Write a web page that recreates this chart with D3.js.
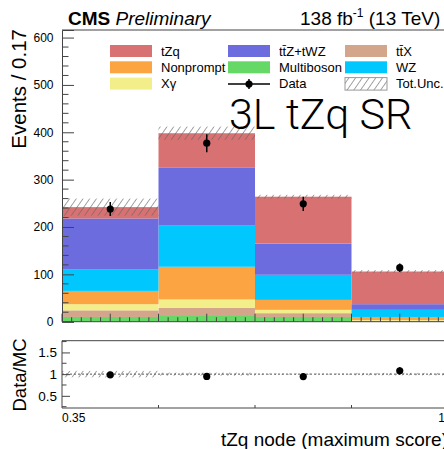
<!DOCTYPE html>
<html>
<head>
<meta charset="utf-8">
<script src="https://cdn.jsdelivr.net/npm/d3@7"></script>
<style>
  body { margin: 0; background: #fff; overflow: hidden; }
  svg text { font-family: "Liberation Sans", Arial, Helvetica, sans-serif; fill: #000; }
</style>
</head>
<body>
<div id="chart"></div>
<script>
// bin edges of the tZq node score
var binEdges = [0.35, 0.5125, 0.675, 0.8375, 1.0];

// stacked backgrounds, bottom to top
var processes = ["Multiboson", "ttX", "Xgamma", "Nonprompt", "WZ", "ttZ", "tZq"];
var multiboson = [10, 12, 10, 0.5];
var ttX        = [14, 17, 8, 1.5];
var xgamma     = [13, 18, 7, 1.5];
var nonprompt  = [28, 69, 21, 6.5];
var wz         = [46, 88, 53, 15];
var ttz        = [107, 121, 66, 12];
var tzq        = [24, 73, 99, 69];
var totUnc     = [18, 14, 4, 3];

var dataVals = [238, 377, 249, 114];
var dataErr  = [15, 19, 15, 9];

var yTicks = [0, 100, 200, 300, 400, 500, 600];
var ratioTicks = [0.5, 1, 1.5];

var colors = {
    tZq: "#d87272", Nonprompt: "#fca441", Xgamma: "#f2ef8a",
    ttZ: "#6c6cdf", Multiboson: "#66d866", ttX: "#d3a68c", WZ: "#00c8ff"
};

var W = 444, H = 449;
var frame = { left: 62, right: 448, top: 30, bottom: 321.7 };
var rframe = { top: 340.7, bottom: 408 };

var svg = d3.select("#chart").append("svg")
    .attr("width", W).attr("height", H);

var defs = svg.append("defs");
var pat = defs.append("pattern")
    .attr("id", "hatch")
    .attr("patternUnits", "userSpaceOnUse")
    .attr("width", 5.5).attr("height", 5.5)
    .attr("patternTransform", "rotate(35)");
pat.append("line")
    .attr("x1", 0).attr("y1", 0).attr("x2", 0).attr("y2", 5.5)
    .attr("stroke", "#666").attr("stroke-width", 1.2);

var x = d3.scaleLinear().domain([0.35, 1.0]).range([frame.left, frame.right]);
var y = d3.scaleLinear().domain([0, 616]).range([frame.bottom, frame.top]);
var yr = d3.scaleLinear().domain([0.22, 1.77]).range([rframe.bottom, rframe.top]);

// build bins table for the stack
var bins = binEdges.slice(0, -1).map(function (lo, i) {
    return {
        lo: lo, hi: binEdges[i + 1],
        Multiboson: multiboson[i], ttX: ttX[i], Xgamma: xgamma[i],
        Nonprompt: nonprompt[i], WZ: wz[i], ttZ: ttz[i], tZq: tzq[i]
    };
});
var totals = bins.map(function (d) {
    return d3.sum(processes, function (k) { return d[k]; });
});

var stack = d3.stack().keys(processes)(bins);

var plot = svg.append("g");
plot.selectAll(".layer")
    .data(stack).enter()
    .append("g")
    .attr("fill", function (d) { return colors[d.key]; })
    .selectAll("rect")
    .data(function (d) { return d; }).enter()
    .append("rect")
    .attr("x", function (d) { return x(d.data.lo); })
    .attr("width", function (d) { return x(d.data.hi) - x(d.data.lo); })
    .attr("y", function (d) { return y(d[1]); })
    .attr("height", function (d) { return y(d[0]) - y(d[1]); });

// total uncertainty band
plot.selectAll(".unc")
    .data(bins).enter()
    .append("rect")
    .attr("class", "unc")
    .attr("x", function (d) { return x(d.lo); })
    .attr("width", function (d) { return x(d.hi) - x(d.lo); })
    .attr("y", function (d, i) { return y(totals[i] + totUnc[i]); })
    .attr("height", function (d, i) { return y(totals[i] - totUnc[i]) - y(totals[i] + totUnc[i]); })
    .attr("fill", "url(#hatch)");

// data points
var centers = bins.map(function (d) { return (d.lo + d.hi) / 2; });
plot.selectAll(".err")
    .data(dataVals).enter()
    .append("line")
    .attr("x1", function (d, i) { return x(centers[i]); })
    .attr("x2", function (d, i) { return x(centers[i]); })
    .attr("y1", function (d, i) { return y(d - dataErr[i]); })
    .attr("y2", function (d, i) { return y(d + dataErr[i]); })
    .attr("stroke", "#000").attr("stroke-width", 1.5);
plot.selectAll(".pt")
    .data(dataVals).enter()
    .append("circle")
    .attr("cx", function (d, i) { return x(centers[i]); })
    .attr("cy", function (d) { return y(d); })
    .attr("r", 3.6).attr("fill", "#000");

// main frame axes
var axisColor = "#444";
svg.append("line").attr("x1", frame.left).attr("x2", frame.right)
    .attr("y1", frame.top).attr("y2", frame.top).attr("stroke", axisColor);
svg.append("line").attr("x1", frame.left).attr("x2", frame.right)
    .attr("y1", frame.bottom).attr("y2", frame.bottom).attr("stroke", axisColor);

var yAxis = d3.axisLeft(y).tickValues(yTicks).tickSize(-12).tickPadding(20)
    .tickFormat(d3.format("d"));
var yAxisG = svg.append("g").attr("transform", "translate(" + frame.left + ",0)").call(yAxis);
yAxisG.select(".domain").attr("stroke", axisColor);
yAxisG.selectAll(".tick line").attr("stroke", axisColor);
yAxisG.selectAll(".tick text").attr("font-size", 12).attr("x", -8.5)
    .style("font-family", "'Liberation Sans', Arial, sans-serif");

var yMinor = d3.range(0, 616, 20).filter(function (v) { return v % 100 !== 0; });
svg.append("g").selectAll("line").data(yMinor).enter().append("line")
    .attr("x1", frame.left).attr("x2", frame.left + 6.5)
    .attr("y1", function (d) { return y(d); }).attr("y2", function (d) { return y(d); })
    .attr("stroke", axisColor);

// x ticks in the main panel
var xTickVals = d3.range(0, 41).map(function (i) { return 0.35 + i * (0.65 / 40); });
svg.append("g").selectAll("line").data(xTickVals).enter().append("line")
    .attr("x1", function (d) { return x(d); }).attr("x2", function (d) { return x(d); })
    .attr("y1", frame.bottom)
    .attr("y2", function (d, i) { return frame.bottom - (i % 5 === 0 ? 8 : 4.5); })
    .attr("stroke", axisColor);

// ratio panel
var ratio = dataVals.map(function (d, i) { return d / totals[i]; });
var ratioErr = dataErr.map(function (d, i) { return d / totals[i]; });
var ratioUnc = totUnc.map(function (d, i) { return d / totals[i]; });

svg.append("g").selectAll("rect").data(bins).enter().append("rect")
    .attr("x", function (d) { return x(d.lo); })
    .attr("width", function (d) { return x(d.hi) - x(d.lo); })
    .attr("y", function (d, i) { return yr(1 + ratioUnc[i]); })
    .attr("height", function (d, i) { return yr(1 - ratioUnc[i]) - yr(1 + ratioUnc[i]); })
    .attr("fill", "url(#hatch)");
svg.append("line").attr("x1", frame.left).attr("x2", frame.right)
    .attr("y1", yr(1)).attr("y2", yr(1))
    .attr("stroke", "#555").attr("stroke-dasharray", "2,2");

svg.append("g").selectAll("line").data(ratio).enter().append("line")
    .attr("x1", function (d, i) { return x(centers[i]); })
    .attr("x2", function (d, i) { return x(centers[i]); })
    .attr("y1", function (d, i) { return yr(d - ratioErr[i]); })
    .attr("y2", function (d, i) { return yr(d + ratioErr[i]); })
    .attr("stroke", "#000").attr("stroke-width", 1.5);
svg.append("g").selectAll("circle").data(ratio).enter().append("circle")
    .attr("cx", function (d, i) { return x(centers[i]); })
    .attr("cy", function (d) { return yr(d); })
    .attr("r", 3.6).attr("fill", "#000");

svg.append("line").attr("x1", frame.left).attr("x2", frame.right)
    .attr("y1", rframe.top).attr("y2", rframe.top).attr("stroke", axisColor);
svg.append("line").attr("x1", frame.left).attr("x2", frame.right)
    .attr("y1", rframe.bottom).attr("y2", rframe.bottom).attr("stroke", axisColor);

var rAxis = d3.axisLeft(yr).tickValues(ratioTicks).tickSize(-8).tickPadding(8)
    .tickFormat(d3.format("~g"));
var rAxisG = svg.append("g").attr("transform", "translate(" + frame.left + ",0)").call(rAxis);
rAxisG.select(".domain").remove();
svg.append("line").attr("x1", frame.left).attr("x2", frame.left)
    .attr("y1", rframe.top).attr("y2", rframe.bottom).attr("stroke", axisColor);
rAxisG.selectAll(".tick line").attr("stroke", axisColor);
rAxisG.selectAll(".tick text").attr("font-size", 13.5).attr("x", -5)
    .style("font-family", "'Liberation Sans', Arial, sans-serif");
svg.append("g").selectAll("line").data([0.25, 0.75, 1.25, 1.75]).enter().append("line")
    .attr("x1", frame.left).attr("x2", frame.left + 4.5)
    .attr("y1", function (d) { return yr(d); }).attr("y2", function (d) { return yr(d); })
    .attr("stroke", axisColor);
svg.append("g").selectAll("line").data(binEdges.slice(1, -1)).enter().append("line")
    .attr("x1", function (d) { return x(d); }).attr("x2", function (d) { return x(d); })
    .attr("y1", rframe.bottom).attr("y2", rframe.bottom - 3)
    .attr("stroke", axisColor);

// x tick labels
svg.append("text").attr("x", x(0.35)).attr("y", 421.5)
    .attr("font-size", 12).text("0.35");
svg.append("text").attr("x", 445).attr("y", 421.5).attr("text-anchor", "end")
    .attr("font-size", 12).text("1");

// axis titles
svg.append("text").attr("x", 448).attr("y", 445.5).attr("text-anchor", "end")
    .attr("font-size", 19).text("tZq node (maximum score)");
svg.append("text").attr("transform", "translate(25.5,29) rotate(-90)")
    .attr("text-anchor", "end").attr("font-size", 20.5).text("Events / 0.17");
svg.append("text").attr("transform", "translate(25.5,375) rotate(-90)")
    .attr("text-anchor", "middle").attr("font-size", 18.5).text("Data/MC");

// header
var head = svg.append("text").attr("x", 68).attr("y", 25).attr("font-size", 19);
head.append("tspan").attr("font-weight", "bold").text("CMS");
head.append("tspan").attr("font-style", "italic").text(" Preliminary");
var lumi = svg.append("text").attr("x", 300).attr("y", 25).attr("font-size", 19);
lumi.append("tspan").text("138 fb");
lumi.append("tspan").attr("font-size", 12).attr("dy", -8).text("-1");
lumi.append("tspan").attr("dy", 8).text(" (13 TeV)");

// region label
svg.append("text").attr("x", 229).attr("y", 129)
    .attr("font-size", 43)
    .style("font-family", "Roboto, 'Liberation Sans', sans-serif")
    .style("font-weight", 300)
    .text("3L tZq SR");

// legend
var legendCols = [110, 228, 345];
var legendRows = [45, 61.3, 77.6];
var legendItems = [
    { label: "tZq", key: "tZq", col: 0, row: 0 },
    { label: "Nonprompt", key: "Nonprompt", col: 0, row: 1 },
    { label: "X\u03b3", key: "Xgamma", col: 0, row: 2 },
    { label: "tt\u0304Z+tWZ", key: "ttZ", col: 1, row: 0 },
    { label: "Multiboson", key: "Multiboson", col: 1, row: 1 },
    { label: "Data", key: "data", col: 1, row: 2 },
    { label: "tt\u0304X", key: "ttX", col: 2, row: 0 },
    { label: "WZ", key: "WZ", col: 2, row: 1 },
    { label: "Tot.Unc.", key: "unc", col: 2, row: 2 }
];
var leg = svg.append("g");
legendItems.forEach(function (it) {
    var lx = legendCols[it.col], ly = legendRows[it.row];
    if (it.key === "data") {
        leg.append("line").attr("x1", lx).attr("x2", lx + 42)
            .attr("y1", ly + 6.5).attr("y2", ly + 6.5).attr("stroke", "#000").attr("stroke-width", 1.5);
        leg.append("line").attr("x1", lx + 21).attr("x2", lx + 21)
            .attr("y1", ly + 1.5).attr("y2", ly + 11.5).attr("stroke", "#000").attr("stroke-width", 1.5);
        leg.append("circle").attr("cx", lx + 21).attr("cy", ly + 6.5).attr("r", 3.6).attr("fill", "#000");
    } else if (it.key === "unc") {
        leg.append("rect").attr("x", lx).attr("y", ly).attr("width", 42).attr("height", 12.5)
            .attr("fill", "url(#hatch)").attr("stroke", "#999");
    } else {
        leg.append("rect").attr("x", lx).attr("y", ly).attr("width", 42).attr("height", 12)
            .attr("fill", colors[it.key]);
    }
    leg.append("text").attr("x", lx + 51).attr("y", ly + 10.8)
        .attr("font-size", 13).text(it.label);
});
</script>
</body>
</html>
